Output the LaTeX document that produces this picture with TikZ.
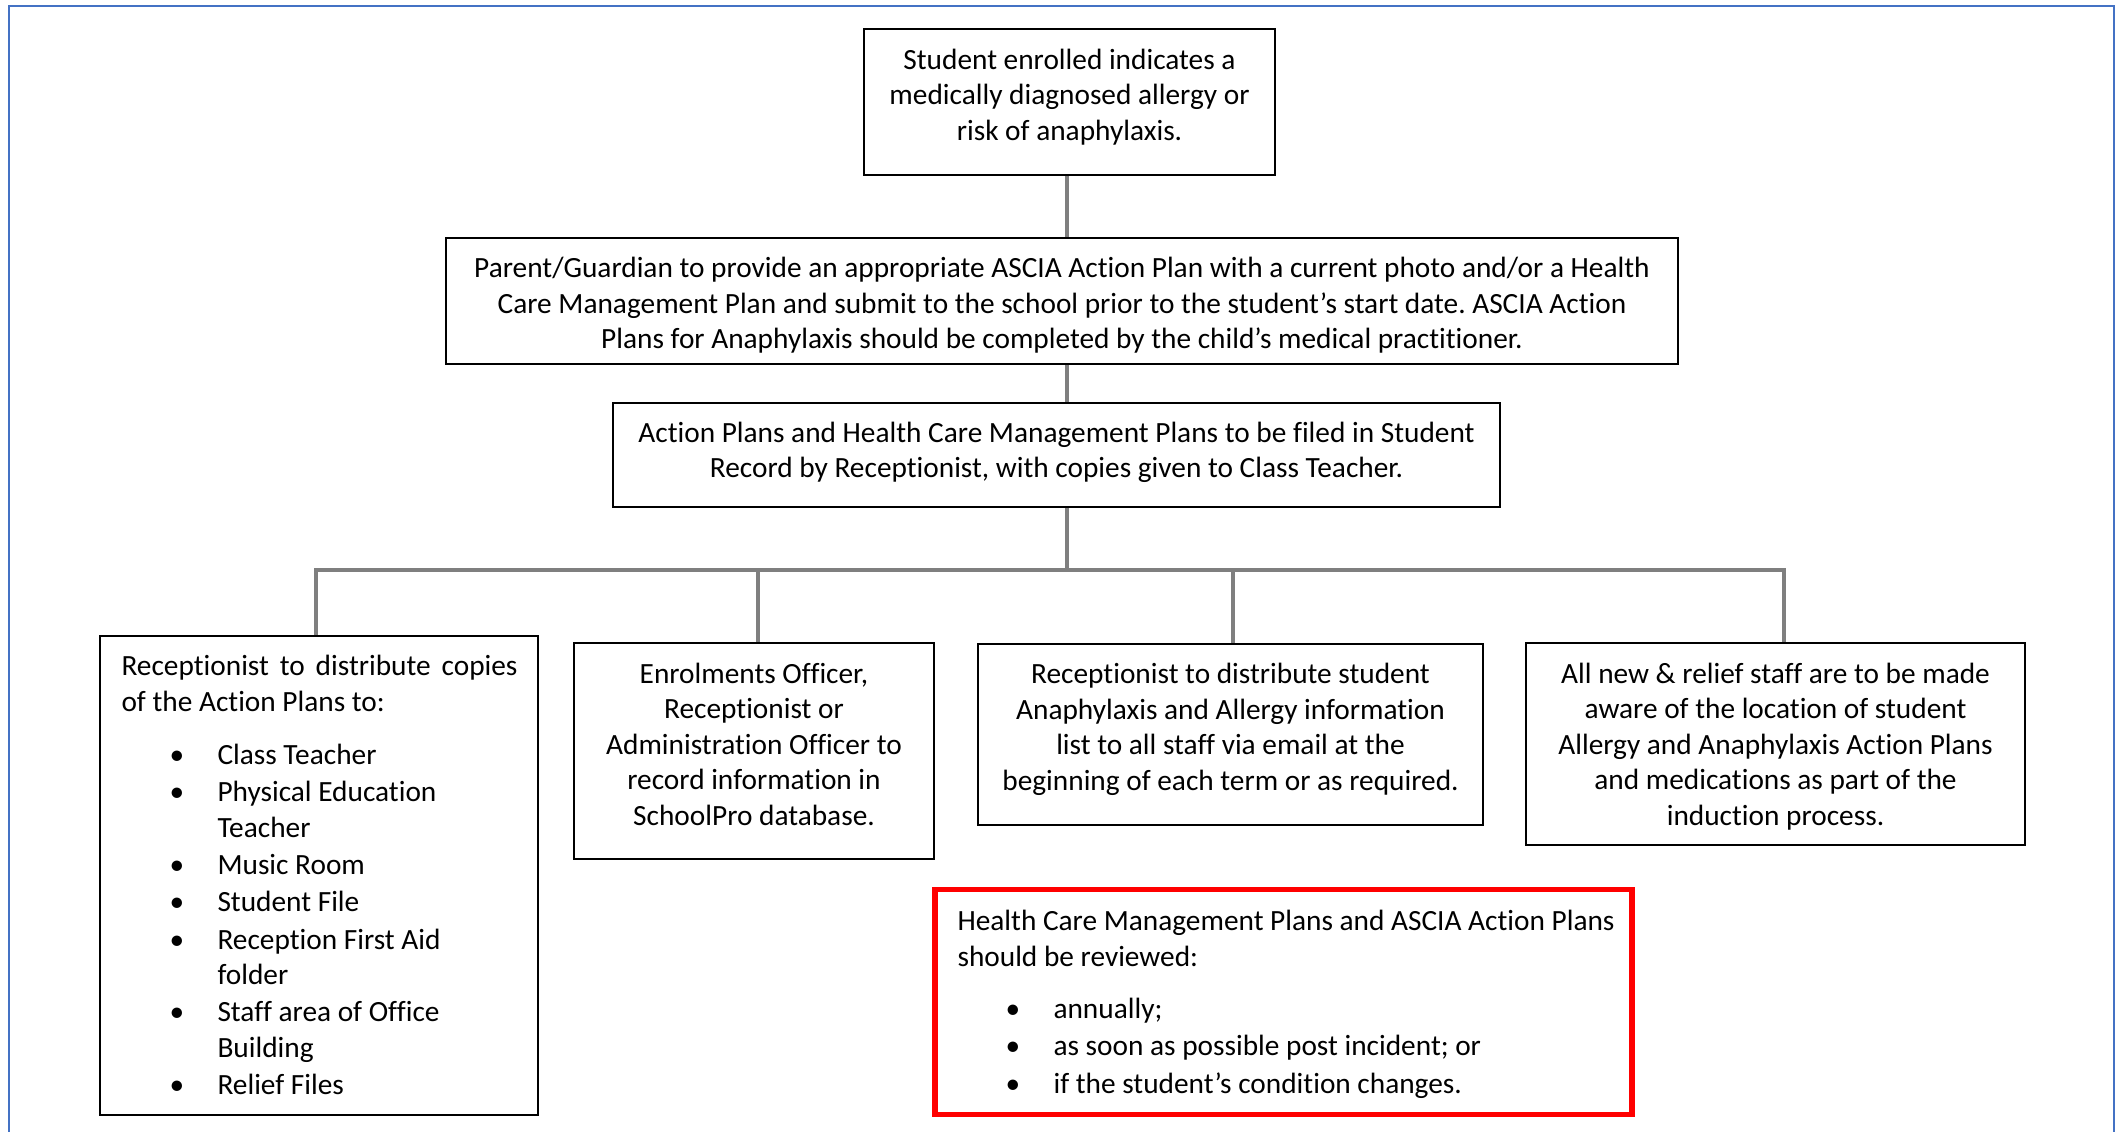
\documentclass[tikz,border=0pt]{standalone}
\usepackage{fontspec}
\setmainfont{Carlito}[Ligatures=NoCommon]
\frenchspacing
\definecolor{connGray}{HTML}{7F7F7F}
\definecolor{frameBlue}{HTML}{4472C4}
\definecolor{alertRed}{HTML}{FF0000}
\newcommand\mybul{\makebox[36pt][l]{\hspace*{18pt}\textbullet}}
\newcommand\myind{\hspace*{36pt}}
\begin{document}
\begin{tikzpicture}[x=0.375pt,y=-0.375pt,
  box/.style n args={2}{rectangle, draw=black, line width=0.8pt, inner sep=0pt,
     minimum width=#1*0.375pt, minimum height=#2*0.375pt},
  redbox/.style={draw=alertRed, line width=1.9pt},
  txt/.style={inner sep=0pt, font=\fontsize{11pt}{13.35pt}\selectfont\frenchspacing},
  ctxt/.style={txt, align=center, anchor=north},
  ltxt/.style={txt, align=left, anchor=north west},
  conn/.style={draw=connGray, line width=1.7pt, line join=miter},
]
\useasboundingbox (0,0) rectangle (2121,1131);
\begin{scope}
  \clip (0,0) rectangle (2121,1131);
  \draw[frameBlue, line width=0.95pt] (9,6) rectangle (2114,1250);
\end{scope}

% boxes
\node[box={411}{146}] (top) at (1069.5,102) {};
\node[box={1232}{126}] (parent) at (1062,301) {};
\node[box={887}{104}] (action) at (1056.5,455) {};
\node[box={438}{479}] (recep) at (319,875.5) {};
\node[box={360}{216}] (enrol) at (754,751) {};
\node[box={505}{181}] (dist) at (1230.5,734.5) {};
\node[box={499}{202}] (staff) at (1775.5,744) {};
\node[box={697}{225}, redbox] (review) at (1283.5,1002) {};

% texts
\node[ctxt] (toptext) at (1069.5,43.6) {\strut Student enrolled indicates a\\ medically diagnosed allergy or\\ risk of anaphylaxis.};
\node[ctxt] (parenttext) at (1062,252.1) {\strut Parent/Guardian to provide an appropriate ASCIA Action Plan with a current photo and/or a Health\\ Care Management Plan and submit to the school prior to the student’s start date. ASCIA Action\\ Plans for Anaphylaxis should be completed by the child’s medical practitioner.};
\node[ctxt] (actiontext) at (1056.5,416.8) {\strut Action Plans and Health Care Management Plans to be filed in Student\\ Record by Receptionist, with copies given to Class Teacher.};
\node[ctxt] (enroltext) at (754,657.6) {\strut Enrolments Officer,\\ Receptionist or\\ Administration Officer to\\ record information in\\ SchoolPro database.};
\node[ctxt] (disttext) at (1230.5,658.1) {\strut Receptionist to distribute student\\ Anaphylaxis and Allergy information\\ list to all staff via email at the\\ beginning of each term or as required.};
\node[ctxt] (stafftext) at (1775.5,657.6) {\strut All new \& relief staff are to be made\\ aware of the location of student\\ Allergy and Anaphylaxis Action Plans\\ and medications as part of the\\ induction process.};
\node[ltxt] (receptext) at (121,650.1) {\strut\makebox[148.5pt][s]{Receptionist to distribute copies}\\ of the Action Plans to:\\[6.5pt]
  \mybul Class Teacher\\[0.65pt]
  \mybul Physical Education\\ \myind Teacher\\[0.65pt]
  \mybul Music Room\\[0.65pt]
  \mybul Student File\\[0.65pt]
  \mybul Reception First Aid\\ \myind folder\\[0.65pt]
  \mybul Staff area of Office\\ \myind Building\\[0.65pt]
  \mybul Relief Files};
\node[ltxt] (reviewtext) at (957,905.1) {\strut Health Care Management Plans and ASCIA Action Plans\\ should be reviewed:\\[6.2pt]
  \mybul annually;\\[0.7pt]
  \mybul as soon as possible post incident; or\\[0.7pt]
  \mybul if the student’s condition changes.};

% connectors
\coordinate (spine) at (1067,570);
\draw[conn] (spine |- top.south) -- (spine |- parent.north);
\draw[conn] (spine |- parent.south) -- (spine |- action.north);
\draw[conn] (spine |- action.south) -- (spine);
\draw[conn] ([xshift=-1.125pt]recep.north) -- ([xshift=-1.125pt]recep.north |- spine)
  -- ([xshift=3.19pt]staff.north |- spine) -- ([xshift=3.19pt]staff.north);
\draw[conn] ([xshift=1.5pt]enrol.north |- spine) -- ([xshift=1.5pt]enrol.north);
\draw[conn] ([xshift=0.94pt]dist.north |- spine) -- ([xshift=0.94pt]dist.north);
\end{tikzpicture}
\end{document}
